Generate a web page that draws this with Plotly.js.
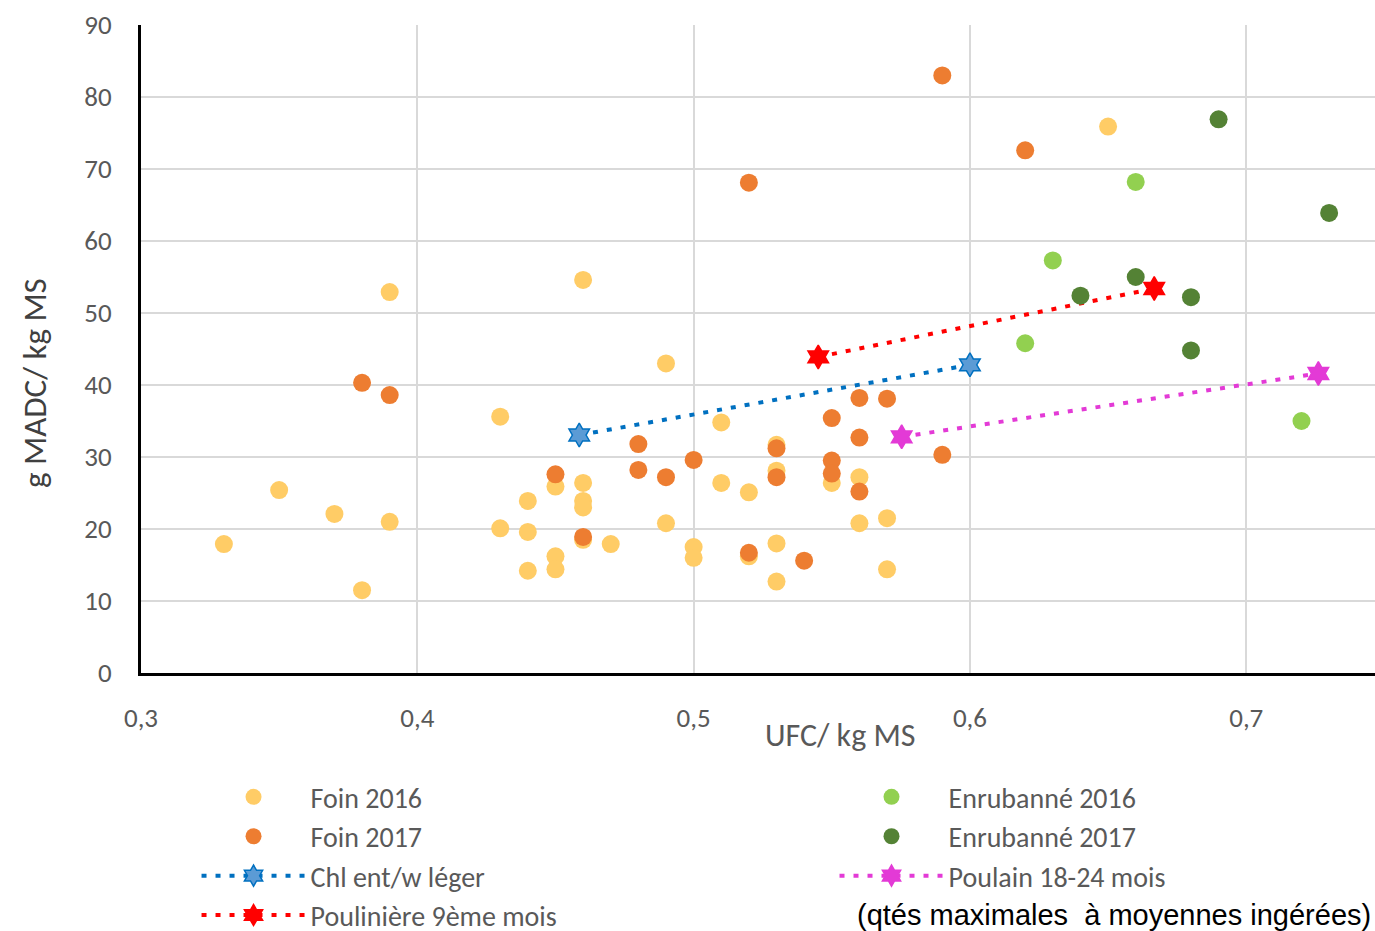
<!DOCTYPE html>
<html>
<head>
<meta charset="utf-8">
<script src="https://cdn.plot.ly/plotly-3.0.1.min.js"></script>
<style>
html,body{margin:0;padding:0;background:#fff;}
#chart{width:1375px;height:931px;}
</style>
</head>
<body>
<div id="chart"></div>
<script>
// Foin 2016
const foin2016X = [0.33,0.35,0.37,0.38,0.39,0.39,0.43,0.43,0.44,0.44,0.44,0.45,0.45,0.45,0.46,0.46,0.46,0.46,0.46,0.47,0.49,0.49,0.50,0.50,0.51,0.51,0.52,0.52,0.53,0.53,0.53,0.53,0.55,0.56,0.56,0.57,0.57,0.65];
const foin2016Y = [17.9,25.4,22.1,11.5,52.9,21.0,35.6,20.1,23.9,19.6,14.2,25.9,16.2,14.4,54.6,26.4,23.9,23.0,18.5,17.9,43.0,20.8,17.5,16.0,34.8,26.4,25.1,16.2,31.7,28.1,18.0,12.7,26.4,27.2,20.8,21.5,14.4,75.9];
// Foin 2017
const foin2017X = [0.38,0.39,0.45,0.46,0.48,0.48,0.49,0.50,0.52,0.52,0.53,0.53,0.54,0.55,0.55,0.55,0.56,0.56,0.56,0.57,0.59,0.59,0.62];
const foin2017Y = [40.3,38.6,27.6,18.9,31.8,28.2,27.2,29.6,68.1,16.7,31.2,27.2,15.6,35.4,29.5,27.7,38.2,32.7,25.2,38.1,83.0,30.3,72.6];
// Enrubanné 2016
const enr2016X = [0.62,0.63,0.66,0.72];
const enr2016Y = [45.8,57.3,68.2,35.0];
// Enrubanné 2017
const enr2017X = [0.64,0.66,0.68,0.68,0.69,0.73];
const enr2017Y = [52.4,55.0,52.2,44.8,76.9,63.9];
// Besoins (qtés maximales à moyennes ingérées)
const chlX = [0.4586,0.600];
const chlY = [33.05,42.8];
const poulX = [0.5451,0.6667];
const poulY = [43.9,53.4];
const poulainX = [0.5753,0.7261];
const poulainY = [32.8,41.6];

const xTicks = [0.3,0.4,0.5,0.6,0.7];
const xTickText = ['0,3','0,4','0,5','0,6','0,7'];
const yTicks = [0,10,20,30,40,50,60,70,80,90];

const FONT = 'Carlito, Lato, sans-serif';
const MS = 18;

const traces = [
  {x: foin2016X, y: foin2016Y, name: 'Foin 2016', type: 'scatter', mode: 'markers',
   marker: {color: '#FFCC66', size: MS}, legend: 'legend'},
  {x: foin2017X, y: foin2017Y, name: 'Foin 2017', type: 'scatter', mode: 'markers',
   marker: {color: '#ED7D31', size: MS}, legend: 'legend'},
  {x: chlX, y: chlY, name: 'Chl ent/w léger', type: 'scatter', mode: 'lines+markers',
   line: {color: '#0070C0', width: 4, dash: '5px,9px'},
   marker: {color: '#5B9BD5', size: 18, symbol: 'hexagram', line: {color: '#0070C0', width: 1.5}}, legend: 'legend'},
  {x: poulX, y: poulY, name: 'Poulinière 9ème mois', type: 'scatter', mode: 'lines+markers',
   line: {color: '#FF0000', width: 4, dash: '5px,9px'},
   marker: {color: '#FF0000', size: 18, symbol: 'hexagram', line: {color: '#FF0000', width: 1.5}}, legend: 'legend'},
  {x: enr2016X, y: enr2016Y, name: 'Enrubanné 2016', type: 'scatter', mode: 'markers',
   marker: {color: '#92D050', size: MS}, legend: 'legend2'},
  {x: enr2017X, y: enr2017Y, name: 'Enrubanné 2017', type: 'scatter', mode: 'markers',
   marker: {color: '#548235', size: MS}, legend: 'legend2'},
  {x: poulainX, y: poulainY, name: 'Poulain 18-24 mois', type: 'scatter', mode: 'lines+markers',
   line: {color: '#E33AD6', width: 4, dash: '5px,9px'},
   marker: {color: '#E33AD6', size: 18, symbol: 'hexagram', line: {color: '#E33AD6', width: 1.5}}, legend: 'legend2'}
];

const legendCommon = {
  orientation: 'v', xanchor: 'left', yanchor: 'top',
  font: {family: FONT, size: 28, color: '#595959'},
  bgcolor: 'rgba(0,0,0,0)', itemwidth: 104, tracegroupgap: 0,
  traceorder: 'normal', itemclick: false
};

const layout = {
  width: 1375, height: 931,
  margin: {l: 141, r: 0, t: 25, b: 258, pad: 0, autoexpand: false},
  paper_bgcolor: '#ffffff', plot_bgcolor: '#ffffff',
  separators: ', ',
  showlegend: true,
  hovermode: false,
  xaxis: {
    range: [0.3, 0.7466], tickvals: xTicks, ticktext: xTickText,
    showgrid: true, gridcolor: '#D9D9D9', gridwidth: 2,
    showline: true, linecolor: '#000000', linewidth: 3,
    zeroline: false, ticks: '', ticklabelstandoff: 19,
    tickfont: {family: FONT, size: 27, color: '#595959'}
  },
  yaxis: {
    range: [0, 90], tickvals: yTicks,
    showgrid: true, gridcolor: '#D9D9D9', gridwidth: 2,
    showline: true, linecolor: '#000000', linewidth: 3,
    zeroline: false, ticks: '', ticklabelstandoff: 21,
    tickfont: {family: FONT, size: 27, color: '#595959'}
  },
  legend: Object.assign({}, legendCommon, {x: 0.045, y: -0.153}),
  legend2: Object.assign({}, legendCommon, {x: 0.562, y: -0.153}),
  annotations: [
    {text: 'UFC/ kg MS', xref: 'paper', yref: 'paper', x: 0.5665, y: -0.0972,
     xanchor: 'center', yanchor: 'middle', showarrow: false,
     font: {family: FONT, size: 32, color: '#595959'}},
    {text: 'g MADC/ kg MS', xref: 'paper', yref: 'paper', x: -0.0859, y: 0.4475,
     xanchor: 'center', yanchor: 'middle', showarrow: false, textangle: -90,
     font: {family: FONT, size: 33, color: '#404040'}},
    {text: '(qtés maximales  à moyennes ingérées)', xref: 'paper', yref: 'paper', x: 0.7885, y: -0.3735,
     xanchor: 'center', yanchor: 'middle', showarrow: false,
     font: {family: 'Liberation Sans, Arial, sans-serif', size: 29, color: '#000000'}}
  ]
};

Plotly.newPlot('chart', traces, layout, {displayModeBar: false, staticPlot: true});
</script>
</body>
</html>
